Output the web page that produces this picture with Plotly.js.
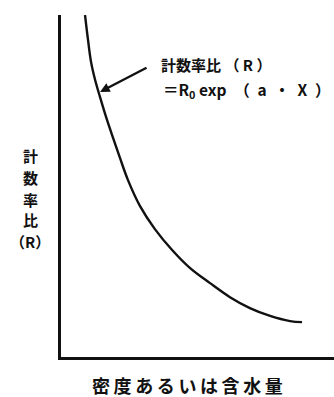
<!DOCTYPE html>
<html>
<head>
<meta charset="utf-8">
<script src="https://cdn.plot.ly/plotly-3.0.1.min.js"></script>
<style>
  html, body { margin: 0; padding: 0; background: #fff; }
  #chart { width: 334px; height: 397px; }
</style>
</head>
<body>
<div id="chart"></div>
<script>
// Count-rate ratio R falling off with density / moisture content (relative units)
const densityX = [8.8, 9.9, 11.0, 12.5, 14.3, 16.5, 19.1, 21.6, 24.5, 28.9, 34.4, 40.7, 47.3, 54.6, 61.9, 69.2, 76.6, 83.9, 88.3];
const ratioR   = [100, 92.7, 86.3, 81.0, 76.0, 70.2, 64.0, 58.2, 51.8, 44.2, 37.4, 31.3, 26.0, 21.6, 17.5, 14.3, 12.0, 10.5, 10.2];

const xLabel = '密\u2009度\u2009あ\u2009る\u2009い\u2009は\u2009含\u2009水\u2009量';
const yLabelChars = ['計', '数', '率', '比', '（R）'];
const curveName = '計数率比 （ R ）';
const curveFormula = '＝R<sub>0</sub> exp\u2002（\u2002a\u2002・\u2002X\u2002）';

const font = { family: '"Noto Sans CJK JP", "Noto Sans", sans-serif', color: '#111', size: 15 };

const trace = {
  x: densityX,
  y: ratioR,
  mode: 'lines',
  line: { color: '#111', width: 2.4, shape: 'spline', smoothing: 1 },
  hoverinfo: 'skip'
};

// vertical axis label, one character per row
const yRowsPaper = [0.589, 0.525, 0.4605, 0.402, 0.338];
const yLabelNotes = yLabelChars.map((ch, i) => ({
  xref: 'paper', yref: 'paper', x: -0.112, y: yRowsPaper[i],
  xanchor: 'center', yanchor: 'middle',
  text: '<b>' + ch + '</b>', showarrow: false, font: font
}));

const layout = {
  width: 334,
  height: 397,
  margin: { l: 61, r: 0, t: 15, b: 40 },
  paper_bgcolor: '#fff',
  plot_bgcolor: '#fff',
  showlegend: false,
  xaxis: {
    range: [0, 100], showgrid: false, zeroline: false, showticklabels: false, ticks: '',
    showline: true, linecolor: '#111', linewidth: 3
  },
  yaxis: {
    range: [0, 100], showgrid: false, zeroline: false, showticklabels: false, ticks: '',
    showline: true, linecolor: '#111', linewidth: 3
  },
  annotations: [
    {
      xref: 'paper', yref: 'paper', x: 0.36, y: 0.855, xanchor: 'left', yanchor: 'middle',
      text: '<b>' + curveName + '</b>', showarrow: false, font: font
    },
    {
      xref: 'paper', yref: 'paper', x: 0.368, y: 0.781, xanchor: 'left', yanchor: 'middle',
      text: '<b>' + curveFormula + '</b>', showarrow: false,
      font: Object.assign({}, font, { size: 15.5 })
    },
    {
      // pointer from the formula to the curve
      xref: 'x', yref: 'y', x: 14.3, y: 77.5, text: '', showarrow: true,
      ax: 48, ay: -25, arrowhead: 2, arrowsize: 0.8, arrowwidth: 2.4, arrowcolor: '#111'
    },
    ...yLabelNotes,
    {
      xref: 'paper', yref: 'paper', x: 0.463, y: -0.082, xanchor: 'center', yanchor: 'middle',
      text: '<b>' + xLabel + '</b>', showarrow: false,
      font: Object.assign({}, font, { size: 18 })
    }
  ]
};

Plotly.newPlot('chart', [trace], layout, { staticPlot: true, displayModeBar: false });
</script>
</body>
</html>
